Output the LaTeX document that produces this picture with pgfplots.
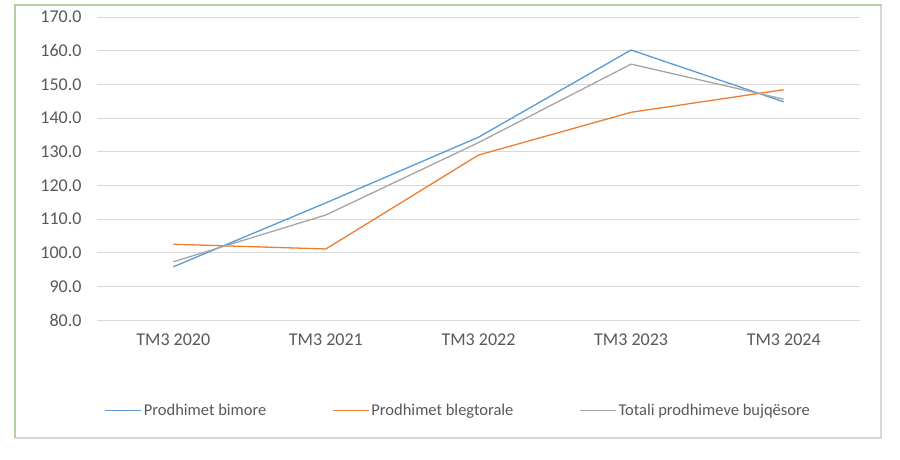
\documentclass[border=0pt]{standalone}
\usepackage{pgfplots}
\pgfplotsset{compat=1.18}
\usepackage{fontspec}
\setmainfont{Carlito}
\definecolor{cblue}{HTML}{5B9BD5}
\definecolor{corange}{HTML}{ED7D31}
\definecolor{cgray}{HTML}{A5A5A5}
\definecolor{ctext}{HTML}{595959}
\definecolor{cgrid}{HTML}{D9D9D9}
\definecolor{cframe}{HTML}{B5CFA0}
\definecolor{cframe2}{HTML}{D8D8D0}
\begin{document}
\begin{tikzpicture}[x=1pt,y=1pt]
\path[use as bounding box, fill=white] (0,0) rectangle (900,459);
\draw[cframe2, line width=1.2pt] (15,454) -- (881,454) -- (881,21) -- (15,21);
\draw[cframe, line width=1.5pt] (15,21) -- (15,454) -- (881,454);
\begin{axis}[
  at={(97pt,139pt)}, anchor=south west,
  width=763pt, height=303pt, scale only axis,
  xmin=-0.5, xmax=4.5, ymin=80, ymax=170,
  xtick={0,1,2,3,4},
  xticklabels={TM3 2020,TM3 2021,TM3 2022,TM3 2023,TM3 2024},
  ytick={80,90,...,170},
  yticklabel style={/pgf/number format/fixed, /pgf/number format/fixed zerofill, /pgf/number format/precision=1, xshift=-12pt},
  /pgf/number format/assume math mode=true,
  axis line style={draw=none},
  axis x line*=bottom,
  x axis line style={draw=cgrid, line width=1pt},
  ymajorgrids, grid style={cgrid, line width=1pt},
  major tick length=0pt,
  tick label style={font=\fontsize{18}{20}\selectfont, text=ctext},
  xticklabel style={yshift=-10pt},
  legend columns=3,
  legend style={at={(0.006,-0.30)}, anchor=west, draw=none, fill=none,
    font=\fontsize{16.5}{18}\selectfont, text=ctext,
    /tikz/every even column/.append style={column sep=64pt}},
  legend image code/.code={\draw[#1, line width=1.1pt] (0pt,0pt) -- (36pt,0pt);},
  every axis plot/.append style={line width=1.3pt},
]
\addplot[cblue] coordinates {(0,95.8) (1,114.8) (2,134.3) (3,160.2) (4,144.8)};
\addlegendentry{Prodhimet bimore}
\addplot[corange] coordinates {(0,102.5) (1,101.1) (2,129.0) (3,141.7) (4,148.4)};
\addlegendentry{Prodhimet blegtorale}
\addplot[cgray] coordinates {(0,97.3) (1,111.2) (2,132.7) (3,156.0) (4,145.6)};
\addlegendentry{Totali prodhimeve bujqësore}
\end{axis}
\end{tikzpicture}
\end{document}
